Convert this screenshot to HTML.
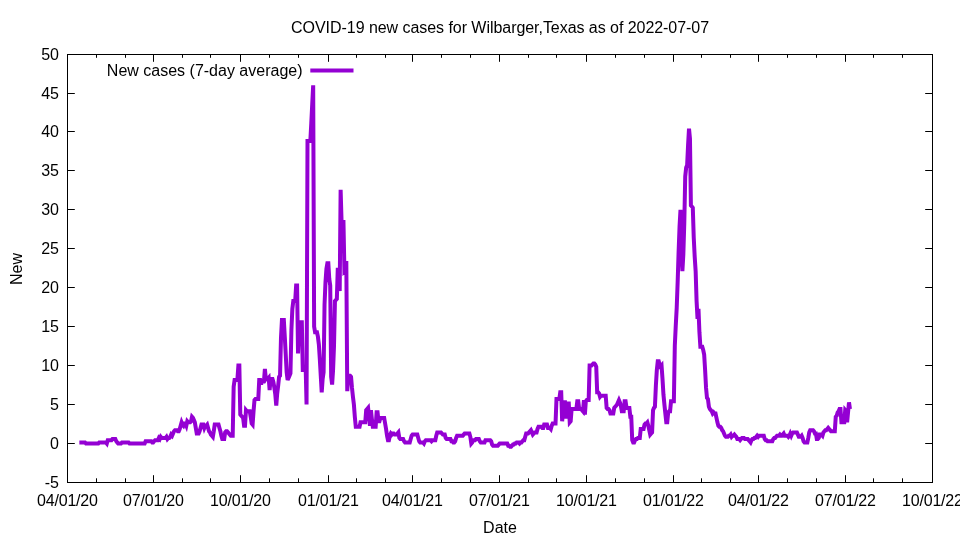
<!DOCTYPE html>
<html lang="en">
<head>
<meta charset="utf-8">
<title>COVID-19 new cases for Wilbarger,Texas</title>
<style>
html,body{margin:0;padding:0;background:#fff;overflow:hidden}
svg{display:block;will-change:transform}
text{font-family:"Liberation Sans",sans-serif;font-size:16px;fill:#000}
</style>
</head>
<body>
<svg width="960" height="540" viewBox="0 0 960 540">
<rect width="960" height="540" fill="#ffffff"/>
<g fill="none" stroke="#000" stroke-width="1">
<path d="M67.5,482.5h7.3M932.5,482.5h-7.3M67.5,443.5h7.3M932.5,443.5h-7.3M67.5,404.5h7.3M932.5,404.5h-7.3M67.5,365.5h7.3M932.5,365.5h-7.3M67.5,326.5h7.3M932.5,326.5h-7.3M67.5,287.5h7.3M932.5,287.5h-7.3M67.5,248.5h7.3M932.5,248.5h-7.3M67.5,209.5h7.3M932.5,209.5h-7.3M67.5,170.5h7.3M932.5,170.5h-7.3M67.5,131.5h7.3M932.5,131.5h-7.3M67.5,93.5h7.3M932.5,93.5h-7.3M67.5,54.5h7.3M932.5,54.5h-7.3M67.5,482.5v-7.3M67.5,54.5v7.3M96.5,482.5v-4.2M96.5,54.5v3.3M125.5,482.5v-4.2M125.5,54.5v3.3M153.5,482.5v-7.3M153.5,54.5v7.3M182.5,482.5v-4.2M182.5,54.5v3.3M210.5,482.5v-4.2M210.5,54.5v3.3M240.5,482.5v-7.3M240.5,54.5v7.3M269.5,482.5v-4.2M269.5,54.5v3.3M298.5,482.5v-4.2M298.5,54.5v3.3M328.5,482.5v-7.3M328.5,54.5v7.3M356.5,482.5v-4.2M356.5,54.5v3.3M385.5,482.5v-4.2M385.5,54.5v3.3M412.5,482.5v-7.3M412.5,54.5v7.3M441.5,482.5v-4.2M441.5,54.5v3.3M470.5,482.5v-4.2M470.5,54.5v3.3M499.5,482.5v-7.3M499.5,54.5v7.3M528.5,482.5v-4.2M528.5,54.5v3.3M556.5,482.5v-4.2M556.5,54.5v3.3M586.5,482.5v-7.3M586.5,54.5v7.3M615.5,482.5v-4.2M615.5,54.5v3.3M644.5,482.5v-4.2M644.5,54.5v3.3M673.5,482.5v-7.3M673.5,54.5v7.3M701.5,482.5v-4.2M701.5,54.5v3.3M730.5,482.5v-4.2M730.5,54.5v3.3M758.5,482.5v-7.3M758.5,54.5v7.3M787.5,482.5v-4.2M787.5,54.5v3.3M816.5,482.5v-4.2M816.5,54.5v3.3M845.5,482.5v-7.3M845.5,54.5v7.3M873.5,482.5v-4.2M873.5,54.5v3.3M902.5,482.5v-4.2M902.5,54.5v3.3M932.5,482.5v-7.3M932.5,54.5v7.3"/>
<rect x="67.5" y="54.5" width="865.0" height="428.0"/>
</g>
<g text-anchor="end">
<text x="59" y="488.10">-5</text>
<text x="59" y="449.10">0</text>
<text x="59" y="410.10">5</text>
<text x="59" y="371.10">10</text>
<text x="59" y="332.10">15</text>
<text x="59" y="293.10">20</text>
<text x="59" y="254.10">25</text>
<text x="59" y="215.10">30</text>
<text x="59" y="176.10">35</text>
<text x="59" y="137.10">40</text>
<text x="59" y="99.10">45</text>
<text x="59" y="60.10">50</text>
</g>
<g text-anchor="middle">
<text x="67.50" y="506" textLength="60.9" lengthAdjust="spacing">04/01/20</text>
<text x="153.50" y="506" textLength="60.9" lengthAdjust="spacing">07/01/20</text>
<text x="240.50" y="506" textLength="60.9" lengthAdjust="spacing">10/01/20</text>
<text x="328.50" y="506" textLength="60.9" lengthAdjust="spacing">01/01/21</text>
<text x="412.50" y="506" textLength="60.9" lengthAdjust="spacing">04/01/21</text>
<text x="499.50" y="506" textLength="60.9" lengthAdjust="spacing">07/01/21</text>
<text x="586.50" y="506" textLength="60.9" lengthAdjust="spacing">10/01/21</text>
<text x="673.50" y="506" textLength="60.9" lengthAdjust="spacing">01/01/22</text>
<text x="758.50" y="506" textLength="60.9" lengthAdjust="spacing">04/01/22</text>
<text x="845.50" y="506" textLength="60.9" lengthAdjust="spacing">07/01/22</text>
<text x="932.50" y="506" textLength="60.9" lengthAdjust="spacing">10/01/22</text>
<text x="500" y="532.5">Date</text>
<text x="500.1" y="32.6" textLength="418" lengthAdjust="spacing">COVID-19 new cases for Wilbarger,Texas as of 2022-07-07</text>
<text transform="translate(21.5,269) rotate(-90)">New</text>
</g>
<text x="302.5" y="75.6" text-anchor="end">New cases (7-day average)</text>
<path d="M310.3,70.4H353.5" fill="none" stroke="#9400d3" stroke-width="4"/>
<path d="M79.35,442.39L85.03,442.39L85.98,443.50L98.28,443.50L99.23,442.39L105.86,442.39L106.80,443.50L107.75,440.16L111.54,440.16L112.48,439.05L115.32,439.05L116.27,441.27L117.22,442.39L118.16,443.50L121.00,443.50L121.95,442.39L128.58,442.39L129.52,443.50L144.67,443.50L145.62,441.27L151.30,441.27L152.24,442.39L153.19,442.39L154.14,441.27L155.08,440.16L157.92,440.16L158.87,437.94L159.82,439.05L160.76,436.82L161.71,437.94L165.50,437.94L166.44,436.82L167.39,439.05L168.34,437.94L169.28,437.94L170.23,436.82L171.18,434.60L172.12,435.71L173.07,433.49L174.02,431.26L174.96,430.15L176.86,430.15L177.80,431.26L178.75,431.26L179.70,429.04L180.64,425.70L181.59,422.36L182.54,424.59L183.48,425.70L184.43,423.48L185.38,423.48L186.32,425.70L187.27,421.25L188.22,422.36L190.11,422.36L191.06,421.25L192.00,416.80L192.95,417.91L193.90,420.14L194.84,422.36L195.79,427.93L196.74,433.49L198.63,433.49L199.58,431.26L200.53,427.93L201.47,424.59L203.37,424.59L204.31,427.93L205.26,425.70L206.21,425.70L207.15,424.59L208.10,427.93L209.05,431.26L209.99,432.38L210.94,434.60L211.89,435.71L212.83,436.82L213.78,431.26L214.73,424.59L218.51,424.59L219.46,427.93L220.41,431.26L221.35,435.71L222.30,439.05L224.19,439.05L225.14,432.38L226.09,431.26L227.03,431.26L227.98,432.38L228.93,433.49L229.87,434.60L230.82,435.71L232.71,435.71L233.66,386.76L234.61,380.09L236.50,380.09L237.45,378.98L238.39,365.62L239.34,365.62L240.29,414.57L241.23,415.69L242.18,416.80L243.13,417.91L244.07,425.70L245.02,425.70L245.97,410.12L246.91,411.24L249.75,411.24L250.70,416.80L251.65,423.48L252.59,424.59L253.54,411.24L254.49,400.11L255.43,399.00L258.27,399.00L259.22,380.09L260.17,380.09L261.11,384.54L262.06,381.20L263.95,381.20L264.90,368.96L265.85,378.98L266.79,377.86L267.74,378.98L268.69,377.86L269.63,390.10L270.58,378.98L272.47,378.98L273.42,382.31L274.37,387.88L275.31,394.55L276.26,405.68L277.21,393.44L278.15,385.65L279.10,376.75L280.05,375.64L280.99,337.81L281.94,320.01L283.83,320.01L284.78,336.70L285.73,354.50L286.67,372.30L287.62,380.09L288.57,377.86L289.51,375.64L290.46,373.41L291.41,330.02L292.35,308.89L293.30,301.10L295.19,301.10L296.14,285.52L297.09,285.52L298.03,353.39L298.98,322.24L301.82,322.24L302.77,370.07L303.71,370.07L304.66,368.96L305.61,365.62L306.55,404.56L307.50,140.90L310.34,140.90L311.29,123.10L312.23,104.19L313.18,85.27L314.13,326.69L315.07,332.25L316.97,332.25L317.91,336.70L318.86,344.49L319.81,358.95L320.75,375.64L321.70,392.32L322.65,378.98L323.59,372.30L324.54,304.44L325.49,282.19L326.43,268.84L327.38,263.27L328.33,263.27L329.27,278.85L330.22,285.52L331.17,376.75L332.11,384.54L333.06,370.07L334.01,345.60L334.95,301.10L335.90,299.99L336.85,298.88L337.79,267.73L338.74,276.62L339.69,291.09L340.63,189.85L341.58,222.11L343.47,222.11L344.42,271.06L345.37,269.95L346.31,261.05L347.26,391.21L348.21,375.64L350.10,375.64L351.05,376.75L351.99,387.88L352.94,396.77L353.89,404.56L354.83,416.80L355.78,426.81L359.57,426.81L360.51,422.36L365.25,422.36L366.19,410.12L367.14,409.01L368.09,407.90L369.03,416.80L369.98,425.70L370.93,410.12L371.87,419.02L372.82,426.81L375.66,426.81L376.61,412.35L377.55,412.35L378.50,421.25L379.45,421.25L380.39,417.91L384.18,417.91L385.13,423.48L386.07,429.04L387.02,435.71L387.97,440.16L388.91,440.16L389.86,435.71L390.81,433.49L391.75,434.60L392.70,433.49L393.65,433.49L394.59,434.60L396.49,434.60L397.43,433.49L398.38,432.38L399.33,437.94L400.27,439.05L403.11,439.05L404.06,441.27L405.01,442.39L409.74,442.39L410.69,439.05L411.63,435.71L412.58,434.60L417.31,434.60L418.26,437.94L419.21,441.27L420.15,442.39L422.99,442.39L423.94,443.50L424.89,441.27L425.83,440.16L430.57,440.16L431.51,441.27L432.46,440.16L435.30,440.16L436.25,435.71L437.20,432.38L440.98,432.38L441.93,433.49L442.88,434.60L444.77,434.60L445.72,437.94L446.66,439.05L450.45,439.05L451.40,441.27L452.34,441.27L453.29,442.39L454.24,442.39L455.18,441.27L456.13,437.94L457.08,435.71L462.76,435.71L463.70,434.60L464.65,433.49L469.38,433.49L470.33,436.82L471.28,443.50L472.22,442.39L473.17,440.16L475.06,440.16L476.01,439.05L478.85,439.05L479.80,441.27L480.74,442.39L484.53,442.39L485.48,440.16L490.21,440.16L491.16,441.27L492.10,444.61L493.05,445.73L497.78,445.73L498.73,444.61L499.68,443.50L507.25,443.50L508.20,445.73L509.14,445.73L510.09,446.84L511.04,446.84L511.98,445.73L512.93,444.61L513.88,444.61L514.82,443.50L515.77,443.50L516.72,442.39L518.61,442.39L519.56,443.50L520.50,442.39L521.45,442.39L522.40,441.27L523.34,440.16L524.29,440.16L525.24,436.82L526.18,433.49L528.08,433.49L529.02,432.38L529.97,431.26L530.92,430.15L531.86,432.38L532.81,434.60L533.76,433.49L534.70,432.38L536.60,432.38L537.54,429.04L538.49,426.81L541.33,426.81L542.28,427.93L543.22,427.93L544.17,424.59L547.01,424.59L547.96,427.93L549.85,427.93L550.80,429.04L551.74,425.70L552.69,423.48L555.53,423.48L556.48,399.00L559.32,399.00L560.26,392.32L561.21,392.32L562.16,421.25L563.10,411.24L564.05,402.34L565.00,402.34L565.94,416.80L566.89,416.80L567.84,403.45L568.78,403.45L569.73,422.36L570.68,421.25L571.62,409.01L576.36,409.01L577.30,401.23L578.25,401.23L579.20,409.01L581.09,409.01L582.04,410.12L582.98,411.24L583.93,400.11L584.88,414.57L585.82,401.23L586.77,400.11L588.66,400.11L589.61,365.62L591.50,365.62L592.45,364.51L593.40,363.40L594.34,363.40L595.29,364.51L596.24,366.74L597.18,392.32L598.13,392.32L599.08,393.44L600.02,396.77L600.97,395.66L605.70,395.66L606.65,407.90L607.60,409.01L608.54,409.01L609.49,410.12L610.44,413.46L613.28,413.46L614.22,407.90L615.17,406.79L616.12,405.68L617.06,404.56L618.01,402.34L618.96,400.11L619.90,402.34L620.85,405.68L621.80,411.24L623.69,411.24L624.64,401.23L625.58,401.23L626.53,407.90L629.37,407.90L630.32,416.80L631.26,416.80L632.21,440.16L633.16,442.39L634.10,442.39L635.05,440.16L636.00,439.05L636.94,439.05L637.89,437.94L639.78,437.94L640.73,429.04L643.57,429.04L644.52,424.59L645.46,423.48L646.41,423.48L647.36,422.36L648.30,425.70L649.25,430.15L650.20,434.60L651.14,433.49L652.09,432.38L653.04,410.12L653.98,407.90L654.93,406.79L655.88,385.65L656.82,370.07L657.77,361.18L658.72,361.18L659.66,364.51L660.61,366.74L661.56,365.62L662.50,378.98L663.45,394.55L664.40,404.56L665.34,413.46L666.29,422.36L667.24,422.36L668.18,412.35L669.13,411.24L670.08,411.24L671.02,401.23L673.87,401.23L674.81,345.60L675.76,325.57L676.71,307.77L677.65,282.19L678.60,252.15L679.55,226.56L680.49,209.88L681.44,248.81L682.39,271.06L683.33,254.38L684.28,223.22L685.23,176.50L686.17,167.60L687.12,165.38L688.07,145.35L689.01,128.66L689.96,138.68L690.91,205.42L691.85,206.54L692.80,207.65L693.75,237.69L694.69,256.60L695.64,271.06L696.59,301.10L697.53,318.90L698.48,308.89L699.43,332.25L700.37,346.71L702.27,346.71L703.21,350.05L704.16,354.50L705.11,370.07L706.05,387.88L707.00,397.89L707.95,399.00L708.89,406.79L709.84,409.01L710.79,410.12L711.73,411.24L712.68,413.46L713.63,412.35L714.57,413.46L715.52,413.46L716.47,417.91L717.41,422.36L718.36,425.70L719.31,426.81L720.25,426.81L721.20,427.93L722.15,430.15L723.09,431.26L724.04,433.49L724.99,435.71L725.93,436.82L727.83,436.82L728.77,435.71L729.72,435.71L730.67,434.60L731.61,436.82L732.56,435.71L733.51,435.71L734.45,434.60L735.40,435.71L736.35,436.82L737.29,439.05L739.19,439.05L740.13,440.16L741.08,439.05L742.03,437.94L743.92,437.94L744.87,439.05L747.71,439.05L748.65,440.16L749.60,441.27L750.55,442.39L751.49,440.16L752.44,439.05L753.39,439.05L754.33,437.94L755.28,437.94L756.23,436.82L757.17,435.71L758.12,436.82L759.07,435.71L763.80,435.71L764.75,439.05L765.69,440.16L766.64,440.16L767.59,441.27L772.32,441.27L773.27,439.05L774.21,437.94L775.16,437.94L776.11,436.82L777.05,435.71L778.95,435.71L779.89,434.60L780.84,435.71L781.79,435.71L782.73,434.60L783.68,433.49L784.63,435.71L787.47,435.71L788.41,436.82L789.36,435.71L790.31,433.49L791.25,435.71L792.20,433.49L793.15,432.38L796.93,432.38L797.88,434.60L798.83,436.82L800.72,436.82L801.67,435.71L802.61,437.94L803.56,441.27L804.51,442.39L807.35,442.39L808.29,437.94L809.24,432.38L810.19,430.15L813.03,430.15L813.97,431.26L814.92,433.49L815.87,433.49L816.81,439.05L817.76,439.05L818.71,437.94L819.65,434.60L821.55,434.60L822.49,435.71L823.44,432.38L824.39,431.26L825.33,430.15L826.28,430.15L827.23,429.04L828.17,427.93L829.12,429.04L830.07,430.15L831.01,431.26L834.80,431.26L835.75,416.80L836.69,415.69L837.64,412.35L838.59,411.24L839.53,409.01L840.48,409.01L841.43,422.36L844.27,422.36L845.21,410.12L846.16,411.24L847.11,422.36L848.05,412.35L849.00,402.34L849.95,409.01" fill="none" stroke="#9400d3" stroke-width="4" stroke-linejoin="miter" stroke-miterlimit="3.8" stroke-linecap="butt"/>
</svg>
</body>
</html>
